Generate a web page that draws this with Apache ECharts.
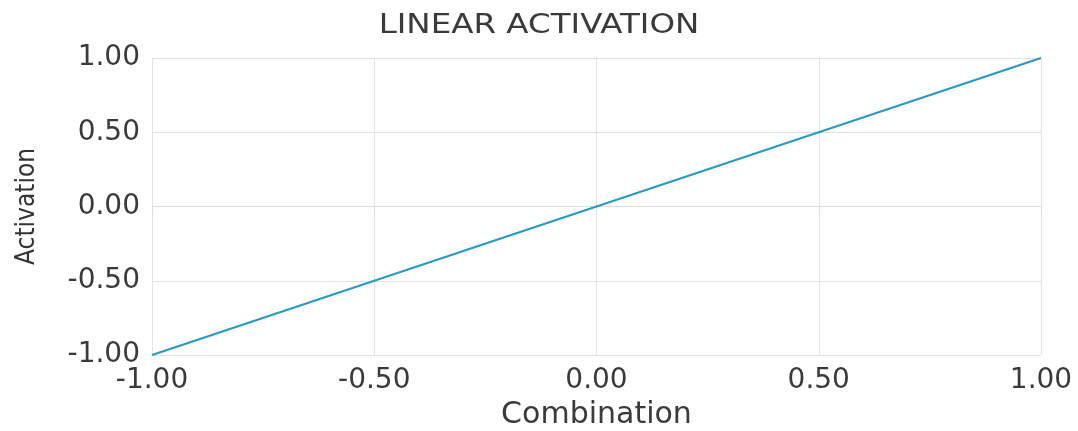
<!DOCTYPE html>
<html><head><meta charset="utf-8">
<script src="https://cdn.jsdelivr.net/npm/echarts@6/dist/echarts.min.js"></script>
<style>html,body{margin:0;padding:0;background:#fff}#c{width:1078px;height:431px}</style>
</head><body><div id="c"></div>
<script>
const combination = [-1.0, -0.5, 0.0, 0.5, 1.0];
const activation = [-1.0, -0.5, 0.0, 0.5, 1.0];
const ticks = [-1.0, -0.5, 0.0, 0.5, 1.0];
const titleText = 'LINEAR ACTIVATION';
const xName = 'Combination';
const yName = 'Activation';

const chart = echarts.init(document.getElementById('c'));
const font = 'DejaVu Sans, Verdana, sans-serif';
chart.setOption({
  animation: false,
  graphic: [{
    type: 'text', x: 539, y: 26, scaleX: 1.25,
    style: { text: titleText, fontFamily: font, fontSize: 26, fill: '#3a3a3a',
      align: 'center', verticalAlign: 'middle' }
  }],
  grid: { left: 152, right: 37, top: 58, bottom: 76, outerBoundsMode: 'none', containLabel: false },
  xAxis: {
    type: 'value', min: -1, max: 1, interval: 0.5,
    name: xName, nameLocation: 'middle', nameGap: 42,
    nameTextStyle: { fontFamily: font, fontSize: 30, color: '#3a3a3a' },
    axisLine: { show: true, lineStyle: { color: '#dcdcdc' } },
    axisTick: { show: true, length: 7, lineStyle: { color: '#dcdcdc' } },
    axisLabel: { fontFamily: font, fontSize: 28, color: '#3a3a3a', margin: 12,
      formatter: v => v.toFixed(2) },
    splitLine: { show: true, lineStyle: { color: '#e3e3e3' } }
  },
  yAxis: {
    type: 'value', min: -1, max: 1, interval: 0.5,
    name: yName, nameLocation: 'middle', nameGap: 112,
    nameTextStyle: { fontFamily: 'Liberation Sans Narrow, DejaVu Sans Condensed, sans-serif', fontSize: 26, color: '#333' },
    axisLine: { show: false },
    axisTick: { show: true, length: 3, lineStyle: { color: '#dcdcdc' } },
    axisLabel: { fontFamily: font, fontSize: 28, color: '#3a3a3a', margin: 12,
      formatter: v => v.toFixed(2) },
    splitLine: { show: true, lineStyle: { color: '#e3e3e3' } }
  },
  series: [{
    type: 'line', data: combination.map((x, i) => [x, activation[i]]),
    showSymbol: false, lineStyle: { color: '#2a9ac0', width: 2.2 }
  }]
});
</script></body></html>
